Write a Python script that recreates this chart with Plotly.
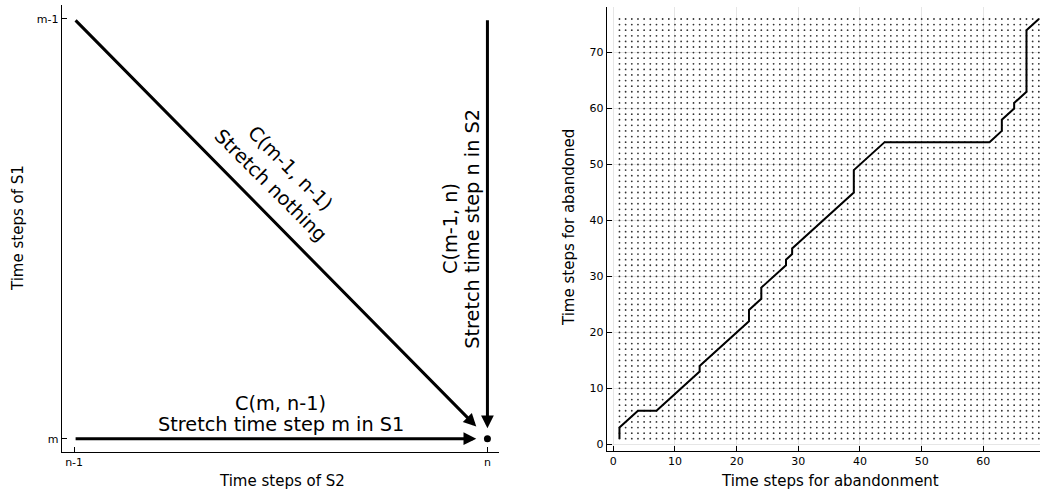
import plotly.graph_objects as go

# ---------------- Left panel: DTW step schematic ----------------
left_tickvals_x = [0, 1]
left_ticktext_x = ["n-1", "n"]
left_tickvals_y = [0, 1]
left_ticktext_y = ["m", "m-1"]

# arrows: tail -> head (data coordinates: x = step in S2, y = step in S1)
arrow_tail_x = [0, 0, 1]
arrow_tail_y = [1, 0, 1]
arrow_head_x = [0.973, 0.973, 1.0]
arrow_head_y = [0.029, 0.0, 0.025]

target_x = [1]
target_y = [0]

# labels: text, x, y, angle
label_text = ["C(m, n-1)", "Stretch time step m in S1",
              "C(m-1, n-1)", "Stretch nothing",
              "C(m-1, n)", "Stretch time step n in S2"]
label_x = [0.500, 0.500, 0.523, 0.476, 0.911, 0.965]
label_y = [0.084, 0.033, 0.643, 0.603, 0.501, 0.500]
label_angle = [0, 0, 45, 45, -90, -90]

# ---------------- Right panel: warping path ----------------
path_x = [1, 1, 4, 7, 14, 14, 22, 22, 24, 24, 28, 28, 29, 29, 39, 39, 44, 61,
          63, 63, 65, 65, 67, 67, 69]
path_y = [1, 3, 6, 6, 13, 14, 22, 24, 26, 28, 32, 33, 34, 35, 45, 49, 54, 54,
          56, 58, 60, 61, 63, 74, 76]
grid_cols = list(range(1, 70))
grid_rows = list(range(1, 77))
right_tickvals_x = [0, 10, 20, 30, 40, 50, 60]
right_tickvals_y = [0, 10, 20, 30, 40, 50, 60, 70]

FONT = "DejaVu Sans"

fig = go.Figure()

# target point
fig.add_trace(go.Scatter(x=target_x, y=target_y, mode="markers",
                         marker=dict(color="black", size=7),
                         xaxis="x", yaxis="y", showlegend=False, hoverinfo="skip"))

# dot grid
gx = [c for r in grid_rows for c in grid_cols]
gy = [r for r in grid_rows for c in grid_cols]
fig.add_trace(go.Scatter(x=gx, y=gy, mode="markers",
                         marker=dict(color="#333333", size=1.8, line=dict(width=0)),
                         xaxis="x2", yaxis="y2", showlegend=False, hoverinfo="skip"))
# path
fig.add_trace(go.Scatter(x=path_x, y=path_y, mode="lines",
                         line=dict(color="black", width=2),
                         xaxis="x2", yaxis="y2", showlegend=False))

annotations = []
for tx, ty, hx, hy in zip(arrow_tail_x, arrow_tail_y, arrow_head_x, arrow_head_y):
    annotations.append(dict(x=hx, y=hy, ax=tx, ay=ty, xref="x", yref="y",
                            axref="x", ayref="y", showarrow=True, text="",
                            arrowhead=2, arrowsize=0.85, arrowwidth=3,
                            arrowcolor="black", standoff=0, startstandoff=0))
for t, x, y, a in zip(label_text, label_x, label_y, label_angle):
    annotations.append(dict(x=x, y=y, xref="x", yref="y", text=t, textangle=a,
                            showarrow=False, xanchor="center", yanchor="middle",
                            font=dict(family=FONT, size=19.3, color="black")))

# axis titles
titles = [("Time steps of S2", 282 / 1040, 1 - 481 / 489, 0),
          ("Time steps of S1", 18 / 1040, 1 - 228 / 489, -90),
          ("Time steps for abandonment", 830 / 1040, 1 - 481 / 489, 0),
          ("Time steps for abandoned", 569 / 1040, 1 - 228 / 489, -90)]
for t, x, y, a in titles:
    annotations.append(dict(x=x, y=y, xref="paper", yref="paper", text=t,
                            textangle=a, showarrow=False, xanchor="center",
                            yanchor="middle",
                            font=dict(family=FONT, size=15, color="black")))

axis_common = dict(showline=True, linecolor="black", linewidth=1, ticks="inside",
                   ticklen=5, tickcolor="black", zeroline=False,
                   tickfont=dict(family=FONT, size=11, color="black"))

fig.update_layout(
    width=1040, height=489,
    margin=dict(l=0, r=0, t=0, b=0),
    paper_bgcolor="white", plot_bgcolor="white",
    showlegend=False,
    xaxis=dict(domain=[61.7 / 1040, 499 / 1040], range=[-0.03, 1.028],
               tickvals=left_tickvals_x, ticktext=left_ticktext_x,
               showgrid=False, anchor="y", **axis_common),
    yaxis=dict(domain=[1 - 451.7 / 489, 1 - 5 / 489], range=[-0.031, 1.033],
               tickvals=left_tickvals_y, ticktext=left_ticktext_y,
               showgrid=False, anchor="x", **axis_common),
    xaxis2=dict(domain=[606.7 / 1040, 1.0], range=[-1.07, 69.19],
                tickvals=right_tickvals_x, showgrid=True, gridcolor="#e6e6e6",
                gridwidth=1, anchor="y2", **axis_common),
    yaxis2=dict(domain=[1 - 450.7 / 489, 1 - 6.7 / 489], range=[-1.14, 78.2],
                tickvals=right_tickvals_y, showgrid=True, gridcolor="#e6e6e6",
                gridwidth=1, anchor="x2", **axis_common),
    annotations=annotations,
    font=dict(family=FONT, color="black"),
)

fig.write_html(
    "out.html",
    config={"displayModeBar": False},
    post_script="document.body.style.margin='0px';document.body.style.overflow='hidden';",
)
